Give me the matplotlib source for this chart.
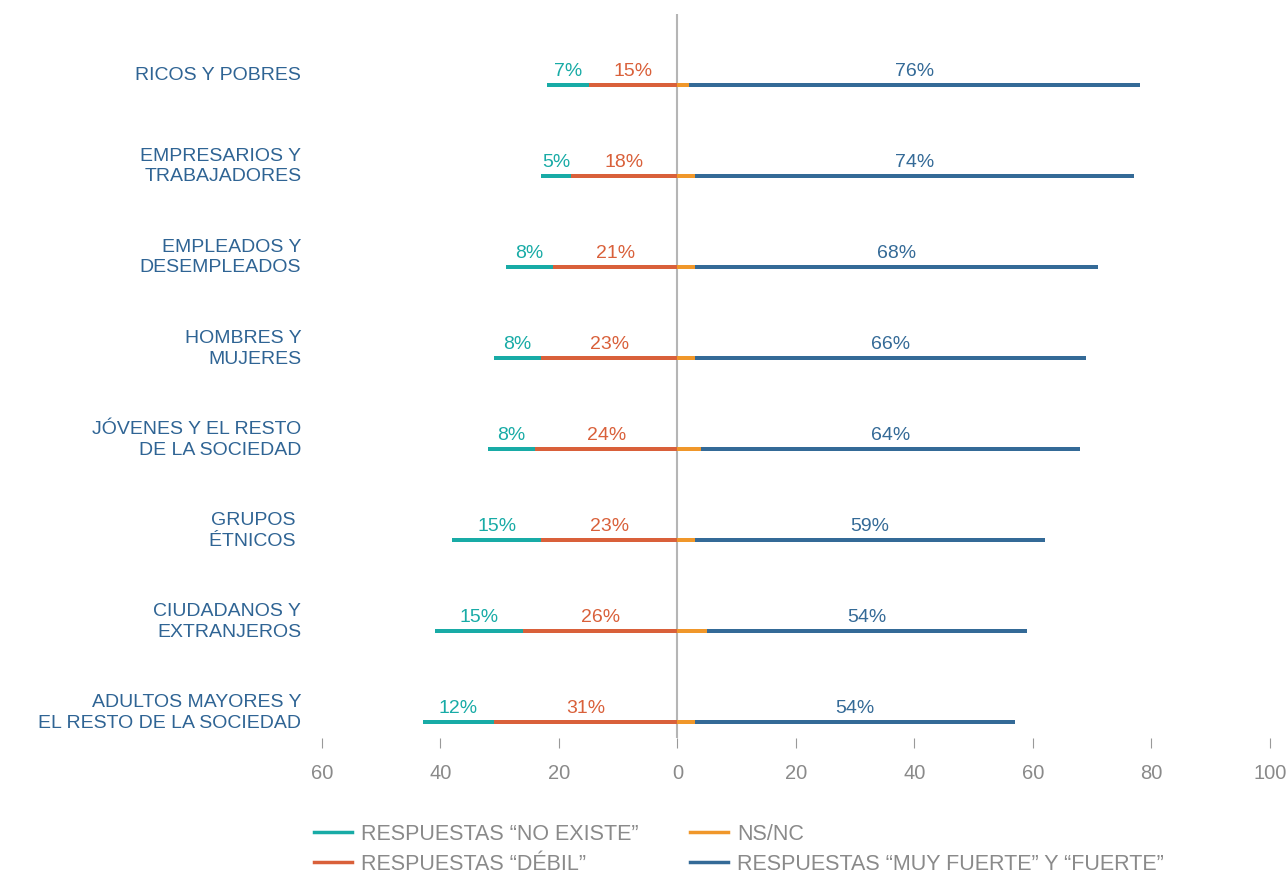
import matplotlib.pyplot as plt
from matplotlib.lines import Line2D

# datos
categorias = ["RICOS Y POBRES", "EMPRESARIOS Y\nTRABAJADORES", "EMPLEADOS Y\nDESEMPLEADOS",
              "HOMBRES Y\nMUJERES", "JÓVENES Y EL RESTO\nDE LA SOCIEDAD", "GRUPOS \nÉTNICOS ",
              "CIUDADANOS Y\nEXTRANJEROS", "ADULTOS MAYORES Y\nEL RESTO DE LA SOCIEDAD"]
no_existe = [7, 5, 8, 8, 8, 15, 15, 12]
debil = [15, 18, 21, 23, 24, 23, 26, 31]
ns_nc = [2, 3, 3, 3, 4, 3, 5, 3]
fuerte = [76, 74, 68, 66, 64, 59, 54, 54]
ticks = [-60, -40, -20, 0, 20, 40, 60, 80, 100]
tick_labels = ["60", "40", "20", "0", "20", "40", "60", "80", "100"]
series = ["RESPUESTAS “NO EXISTE”", "RESPUESTAS “DÉBIL”", "NS/NC",
          "RESPUESTAS “MUY FUERTE” Y “FUERTE”"]

c_teal = "#18aba6"
c_rojo = "#d9603a"
c_nar = "#f0972a"
c_azul = "#346a97"
c_cat = "#2f6494"
c_gris = "#8a8a8a"

plt.rcParams['font.family'] = ['Liberation Sans', 'DejaVu Sans']

fig = plt.figure(figsize=(12.88, 8.73), dpi=100)
ax = fig.add_axes([0.25, 0.1546, 0.736, 0.8294])

y = list(range(len(categorias)))
h = 0.035
izq_teal = [-(d + n) for d, n in zip(debil, no_existe)]
izq_rojo = [-d for d in debil]

ax.barh(y, no_existe, left=izq_teal, height=h, color=c_teal, linewidth=0)
ax.barh(y, debil, left=izq_rojo, height=h, color=c_rojo, linewidth=0)
ax.barh(y, ns_nc, left=0, height=h, color=c_nar, linewidth=0)
ax.barh(y, fuerte, left=ns_nc, height=h, color=c_azul, linewidth=0)

ax.axvline(0, color="#b5b5b5", lw=1.5, zorder=0)

# etiquetas de valores
for i in y:
    ax.text(izq_teal[i] + no_existe[i] / 2, i - 0.05, f"{no_existe[i]}%", color=c_teal,
            ha="center", va="bottom", fontsize=14)
    ax.text(izq_rojo[i] + debil[i] / 2, i - 0.05, f"{debil[i]}%", color=c_rojo,
            ha="center", va="bottom", fontsize=14)
    ax.text(ns_nc[i] + fuerte[i] / 2, i - 0.05, f"{fuerte[i]}%", color=c_azul,
            ha="center", va="bottom", fontsize=14)
    ax.text(-63.5, i - 0.10, categorias[i], color=c_cat, ha="right", va="center",
            fontsize=14, linespacing=1.25)

ax.set_xlim(-60, 100)
ax.set_ylim(7.176, -0.78)
ax.set_xticks(ticks)
ax.set_xticklabels(tick_labels, color=c_gris, fontsize=14.5)
ax.tick_params(axis="x", length=7, color="#999999", pad=12)
ax.set_yticks([])
for s in ax.spines.values():
    s.set_visible(False)

handles = [Line2D([], [], color=c, lw=2.5) for c in [c_teal, c_rojo, c_nar, c_azul]]
fig.legend(handles, series, loc="lower left", bbox_to_anchor=(0.229, -0.024), ncol=2, frameon=False,
           fontsize=15.5, handlelength=1.75, handletextpad=0.42, columnspacing=2.4,
           labelspacing=0.4, labelcolor=c_gris)

fig.savefig("out.png", dpi=100)
